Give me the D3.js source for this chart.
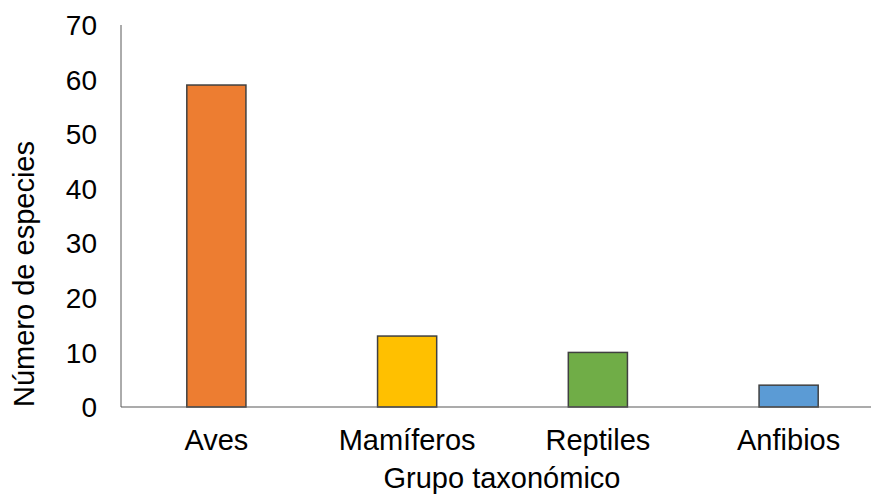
<!DOCTYPE html>
<html><head><meta charset="utf-8">
<script src="https://cdn.jsdelivr.net/npm/d3@7"></script>
<style>body{margin:0;background:#fff}text{font-family:"Liberation Sans",Arial,sans-serif;fill:#000}</style>
</head><body><svg id="c" width="872" height="494"></svg>
<script>
const categories = ["Aves","Mamíferos","Reptiles","Anfibios"];
const values = [59, 13, 10, 4];
const colors = ["#ED7D31","#FFC000","#70AD47","#5B9BD5"];
const yTicks = [0,10,20,30,40,50,60,70];

const svg = d3.select("#c");
const x0 = 121, x1 = 884, yB = 407, yT = 25;
const x = d3.scaleBand().domain(categories).range([x0, x1]).paddingInner(0.69).paddingOuter(0.345);
const y = d3.scaleLinear().domain([0,70]).range([yB, yT]);

svg.selectAll("rect.bar").data(values).enter().append("rect")
  .attr("class","bar")
  .attr("x",(d,i)=>x(categories[i]))
  .attr("width",x.bandwidth())
  .attr("y",d=>y(d))
  .attr("height",d=>y(0)-y(d))
  .attr("fill",(d,i)=>colors[i])
  .attr("stroke","#404040").attr("stroke-width",1.5);

svg.append("line").attr("x1",x0).attr("x2",x0).attr("y1",y(70)).attr("y2",y(0)).attr("stroke","#595959").attr("stroke-width",1);
svg.append("line").attr("x1",x0).attr("x2",871).attr("y1",y(0)).attr("y2",y(0)).attr("stroke","#595959").attr("stroke-width",1.2);

svg.selectAll("text.yt").data(yTicks).enter().append("text")
  .attr("class","yt").attr("x",97).attr("y",d=>y(d)).attr("dy","0.36em")
  .attr("text-anchor","end").style("font-size","28px").text(d=>d);

svg.selectAll("text.xt").data(categories).enter().append("text")
  .attr("class","xt").attr("x",d=>x(d)+x.bandwidth()/2).attr("y",450)
  .attr("text-anchor","middle").style("font-size","29px").text(d=>d);

svg.append("text").attr("x",502).attr("y",488).attr("text-anchor","middle").style("font-size","29px").text("Grupo taxonómico");
svg.append("text").attr("transform","translate(34,274) rotate(-90)").attr("text-anchor","middle").style("font-size","29px").text("Número de especies");
</script></body></html>
